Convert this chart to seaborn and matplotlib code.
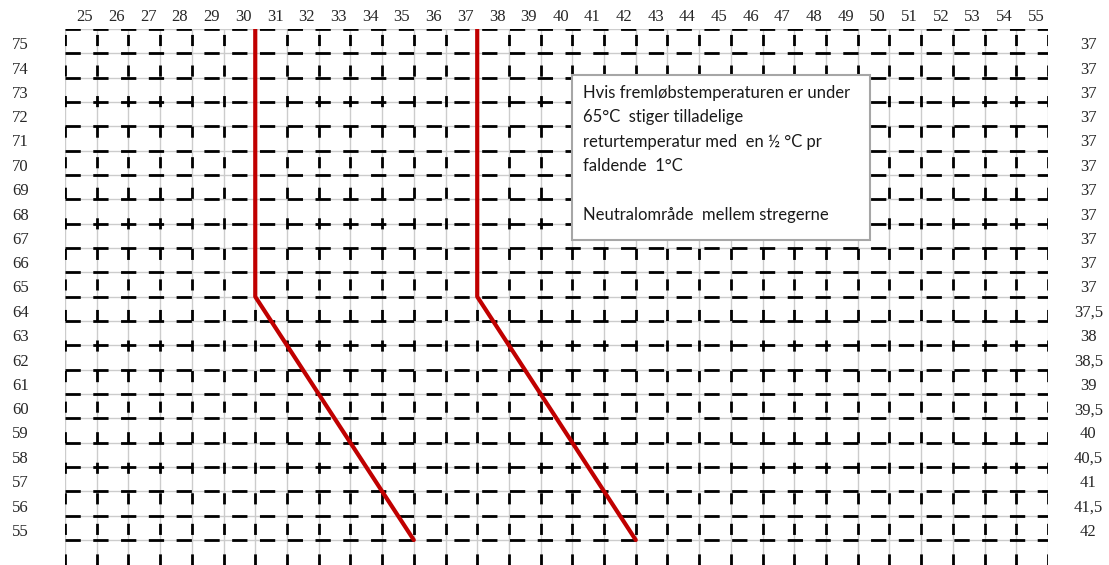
import numpy as np
import pandas as pd
import seaborn as sns
import matplotlib
matplotlib.use("Agg")
import matplotlib.pyplot as plt
from matplotlib.patches import Rectangle
from matplotlib.transforms import ScaledTranslation

# ---- data ----
x_labels = list(range(25, 56))                      # top axis (return temp columns)
flow_temps = list(range(75, 54, -1))                # left axis labels
return_limits = ["37"] * 11 + ["37,5", "38", "38,5", "39", "39,5", "40",
                                "40,5", "41", "41,5", "42"]   # right axis labels
line_flow = [75.5, 64.5, 54.5]
lower_line_return = [30.5, 30.5, 35.5]
upper_line_return = [37.5, 37.5, 42.5]
note_text = ("Hvis fremløbstemperaturen er under\n"
             "65°C  stiger tilladelige\n"
             "returtemperatur med  en ½ °C pr\n"
             "faldende  1°C\n"
             "\n"
             "Neutralområde  mellem stregerne")

df = pd.DataFrame({
    "retur": lower_line_return + upper_line_return,
    "frem": line_flow + line_flow,
    "linje": ["nedre"] * 3 + ["øvre"] * 3,
})

sns.set_theme(style="white")
plt.rcParams["font.family"] = ["Liberation Serif", "DejaVu Serif"]

W, H = 1109, 565
fig = plt.figure(figsize=(W / 100, H / 100), dpi=100)
left, right, top, bottom = 65, 1048, 29, 565
ax = fig.add_axes([left / W, 1 - bottom / H, (right - left) / W, (bottom - top) / H])

xmin, xmax = x_labels[0] - 0.5, x_labels[-1] + 0.5
ymax = flow_temps[0] + 0.5
unit_px = (540 - 29) / 21.0
ymin = ymax - (bottom - top) / unit_px
ax.set_xlim(xmin, xmax)
ax.set_ylim(ymin, ymax)

# grid: light gray solid under black dashes
vgrid = np.arange(xmin, xmax + 0.01, 1.0)
hgrid = np.arange(flow_temps[-1] - 0.5, ymax + 0.01, 1.0)
for xv in vgrid:
    ax.axvline(xv, color="#cccccc", lw=1.0, zorder=1)
    ax.axvline(xv, color="black", lw=2.0, ls=(0, (4.0, 7.0)), zorder=2)
for yv in hgrid:
    ax.axhline(yv, color="#cccccc", lw=1.0, zorder=1)
    ax.axhline(yv, color="black", lw=2.0, ls=(0, (5.5, 4.5)), zorder=2)

sns.lineplot(data=df, x="retur", y="frem", units="linje", estimator=None,
             sort=False, color="#c00000", lw=3.0, ax=ax, zorder=4,
             legend=False)
ax.set_xlabel("")
ax.set_ylabel("")

for s in ax.spines.values():
    s.set_visible(False)

# top tick labels
ax.xaxis.tick_top()
ax.set_xticks(x_labels)
ax.set_xticklabels([str(v) for v in x_labels])
ax.tick_params(axis="x", which="both", length=0, pad=3, labelsize=12)
shift = ScaledTranslation(4 / 100, 0, fig.dpi_scale_trans)
for lab in ax.get_xticklabels():
    lab.set_transform(lab.get_transform() + shift)

# left tick labels
ax.set_yticks(flow_temps)
ax.set_yticklabels([str(v) for v in flow_temps])
ax.tick_params(axis="y", length=0, labelsize=12, pad=32)
dshift = ScaledTranslation(0, -2 / 100, fig.dpi_scale_trans)
for lab in ax.get_yticklabels():
    lab.set_horizontalalignment("center")
    lab.set_transform(lab.get_transform() + dshift)

# right tick labels
ax2 = ax.twinx()
ax2.set_ylim(ax.get_ylim())
ax2.set_yticks(flow_temps)
ax2.set_yticklabels(return_limits)
ax2.tick_params(axis="y", length=0, pad=29, labelsize=12)
for lab in ax2.get_yticklabels():
    lab.set_horizontalalignment("center")
    lab.set_transform(lab.get_transform() + dshift)
for s in ax2.spines.values():
    s.set_visible(False)
ax2.grid(False)

# note box
bx0, bx1, by0, by1 = 572, 870, 75, 240
fig.patches.append(Rectangle((bx0 / W, 1 - by1 / H), (bx1 - bx0) / W, (by1 - by0) / H,
                             transform=fig.transFigure, facecolor="white",
                             edgecolor="#a6a6a6", lw=1.5, zorder=10))
fig.text(583 / W, 1 - 85 / H, note_text, ha="left", va="top",
         fontsize=12.0, family=["Lato", "DejaVu Sans"], linespacing=1.64,
         color="#1a1a1a", zorder=11)

fig.savefig("out.png", dpi=100)
